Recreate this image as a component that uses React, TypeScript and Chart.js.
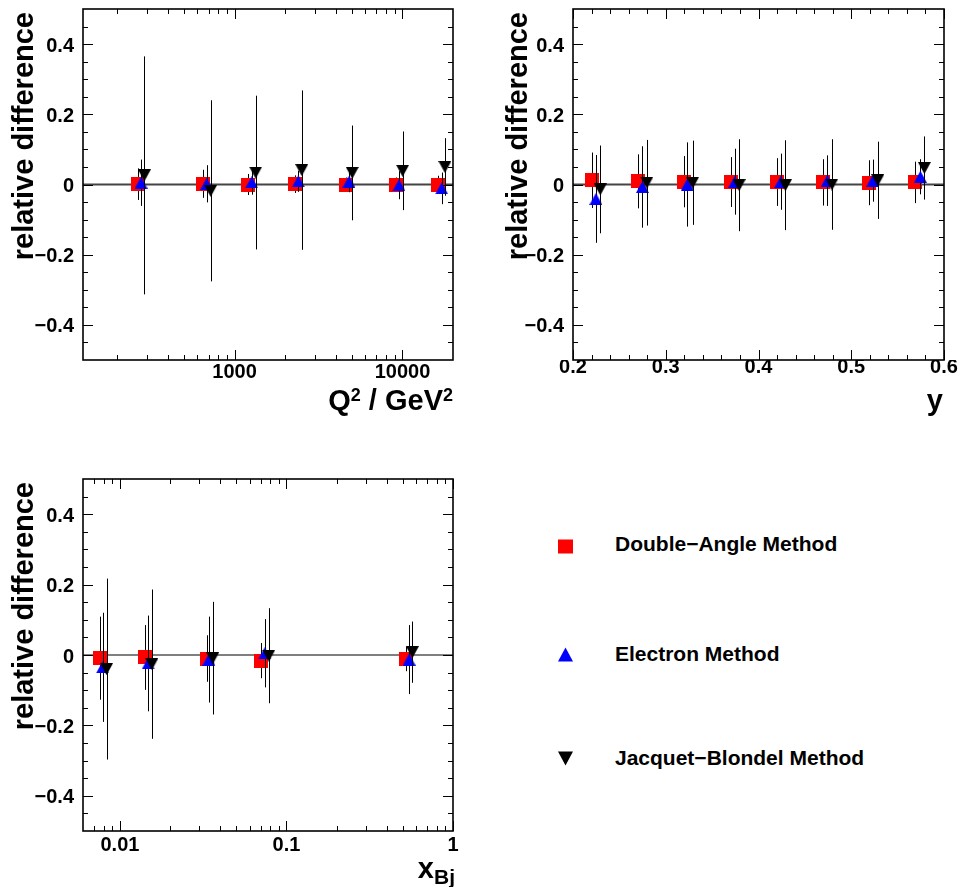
import React, { useEffect, useRef } from 'react';
import { Chart, registerables } from 'chart.js';

Chart.register(...registerables);

const FONT = "'Liberation Sans', Arial, Helvetica, sans-serif";

// ---------- Panel 1: Q^2 ----------
const q2DoubleAngleX = [267, 651, 1207, 2290, 4590, 9100, 16330];
const q2ElectronX = [277, 682, 1264, 2395, 4800, 9530, 17120];
const q2JacquetX = [290, 720, 1335, 2510, 5020, 10020, 17900];
const q2DoubleAngle = [0.001, 0.002, 0.0, 0.001, 0.0, 0.0, 0.0];
const q2DoubleAngleErr = [0.045, 0.04, 0.03, 0.025, 0.02, 0.02, 0.025];
const q2Electron = [0.005, 0.002, 0.006, 0.009, 0.008, -0.002, -0.011];
const q2ElectronErr = [0.066, 0.053, 0.035, 0.03, 0.03, 0.04, 0.045];
const q2Jacquet = [0.026, -0.018, 0.034, 0.041, 0.033, 0.039, 0.05];
const q2JacquetErr = [0.339, 0.258, 0.219, 0.227, 0.135, 0.112, 0.082];

// ---------- Panel 2: y ----------
const yDoubleAngleX = [0.2205, 0.27, 0.32, 0.37, 0.42, 0.47, 0.519, 0.569];
const yElectronX = [0.2247, 0.2748, 0.3232, 0.3745, 0.424, 0.4742, 0.5232, 0.5745];
const yJacquetX = [0.2294, 0.2796, 0.329, 0.3791, 0.429, 0.4791, 0.5286, 0.5788];
const yDoubleAngle = [0.012, 0.009, 0.008, 0.007, 0.007, 0.006, 0.005, 0.006];
const yDoubleAngleErr = [0.079, 0.077, 0.073, 0.071, 0.068, 0.066, 0.064, 0.059];
const yElectron = [-0.041, -0.007, 0.0, 0.008, 0.008, 0.011, 0.011, 0.022];
const yElectronErr = [0.125, 0.116, 0.12, 0.094, 0.08, 0.072, 0.06, 0.05];
const yJacquet = [-0.014, 0.005, 0.005, -0.002, -0.002, 0.0, 0.012, 0.047];
const yJacquetErr = [0.125, 0.122, 0.12, 0.131, 0.128, 0.129, 0.11, 0.09];

// ---------- Panel 3: x_Bj ----------
const xDoubleAngleX = [0.00759, 0.01416, 0.0332, 0.0708, 0.52];
const xElectronX = [0.00786, 0.01476, 0.0342, 0.0741, 0.545];
const xJacquetX = [0.00831, 0.01554, 0.0361, 0.0783, 0.57];
const xDoubleAngle = [-0.009, -0.007, -0.01, -0.016, -0.011];
const xDoubleAngleErr = [0.118, 0.092, 0.066, 0.05, 0.035];
const xElectron = [-0.035, -0.024, -0.013, 0.005, -0.013];
const xElectronErr = [0.155, 0.136, 0.122, 0.097, 0.098];
const xJacquet = [-0.04, -0.026, -0.009, -0.002, 0.008];
const xJacquetErr = [0.257, 0.212, 0.16, 0.135, 0.087];

// ---------- Ticks ----------
const yMajorTicks = [-0.4, -0.2, 0, 0.2, 0.4];
const yMinorTicks = [-0.45, -0.35, -0.3, -0.25, -0.15, -0.1, -0.05, 0.05, 0.1, 0.15, 0.25, 0.3, 0.35, 0.45];
const q2MajorTicks = [1000, 10000];
const q2MinorTicks = [200, 300, 400, 500, 600, 700, 800, 900, 2000, 3000, 4000, 5000, 6000, 7000, 8000, 9000];
const yVarMajorTicks = [0.2, 0.3, 0.4, 0.5, 0.6];
const yVarMinorTicks = [0.22, 0.24, 0.26, 0.28, 0.32, 0.34, 0.36, 0.38, 0.42, 0.44, 0.46, 0.48, 0.52, 0.54, 0.56, 0.58];
const xBjMajorTicks = [0.01, 0.1, 1];
const xBjMinorTicks = [0.007, 0.008, 0.009, 0.02, 0.03, 0.04, 0.05, 0.06, 0.07, 0.08, 0.09, 0.2, 0.3, 0.4, 0.5, 0.6, 0.7, 0.8, 0.9];

const legendLabels = ['Double\u2212Angle Method', 'Electron Method', 'Jacquet\u2212Blondel Method'];

type MarkerKind = 'square' | 'up' | 'down';
interface Series { xs: number[]; ys: number[]; errs: number[]; marker: MarkerKind; }

function makeMarker(kind: MarkerKind): HTMLCanvasElement {
  const c = document.createElement('canvas');
  const ctx = c.getContext('2d') as CanvasRenderingContext2D;
  if (kind === 'square') {
    c.width = 14; c.height = 14;
    ctx.fillStyle = '#ff0000';
    ctx.fillRect(0, 0, 14, 14);
  } else if (kind === 'up') {
    c.width = 13; c.height = 12;
    ctx.fillStyle = '#0000ff';
    ctx.beginPath();
    ctx.moveTo(6.5, 0); ctx.lineTo(13, 12); ctx.lineTo(0, 12);
    ctx.closePath(); ctx.fill();
  } else {
    c.width = 13; c.height = 12;
    ctx.fillStyle = '#000000';
    ctx.beginPath();
    ctx.moveTo(0, 0); ctx.lineTo(13, 0); ctx.lineTo(6.5, 12);
    ctx.closePath(); ctx.fill();
  }
  return c;
}

interface PanelProps {
  left: number; top: number; width: number; height: number;
  padRight: number; axisHeight: number; labelPad: number;
  xType: 'linear' | 'logarithmic'; xMin: number; xMax: number;
  xMajor: number[]; xMinor: number[]; xFormat: (v: number) => string;
  series: Series[]; zeroWidth: number; zeroColor: string;
}

function yFormat(v: number): string {
  if (Math.abs(v) < 1e-9) return '0';
  return (v < 0 ? '\u2212' : '') + Math.abs(v).toFixed(1);
}

function Panel(p: PanelProps) {
  const ref = useRef<HTMLCanvasElement>(null);
  useEffect(() => {
    if (!ref.current) return;
    const markers: Record<MarkerKind, HTMLCanvasElement> = {
      square: makeMarker('square'), up: makeMarker('up'), down: makeMarker('down'),
    };
    const datasets: any[] = [
      {
        data: [{ x: p.xMin, y: 0 }, { x: p.xMax, y: 0 }],
        showLine: true, borderColor: p.zeroColor, borderWidth: p.zeroWidth,
        pointRadius: 0, order: 10,
      },
      ...p.series.map((s, i) => ({
        data: s.xs.map((x, j) => ({ x, y: s.ys[j] })),
        pointStyle: markers[s.marker],
        pointRadius: 7,
        order: 3 - i,
      })),
    ];

    const errorBars = {
      id: 'errorBars',
      beforeDatasetDraw(chart: any, args: any) {
        const idx = args.index;
        if (idx === 0) return;
        const s = p.series[idx - 1];
        const ctx = chart.ctx as CanvasRenderingContext2D;
        const xs = chart.scales.x, ys = chart.scales.y;
        ctx.save();
        ctx.strokeStyle = '#000';
        ctx.lineWidth = 1;
        ctx.beginPath();
        s.xs.forEach((x, j) => {
          const px = Math.round(xs.getPixelForValue(x)) + 0.5;
          ctx.moveTo(px, ys.getPixelForValue(s.ys[j] + s.errs[j]));
          ctx.lineTo(px, ys.getPixelForValue(s.ys[j] - s.errs[j]));
        });
        ctx.stroke();
        ctx.restore();
      },
    };

    const frame = {
      id: 'rootFrame',
      afterDraw(chart: any) {
        const ctx = chart.ctx as CanvasRenderingContext2D;
        const a = chart.chartArea;
        const xs = chart.scales.x, ys = chart.scales.y;
        ctx.save();
        ctx.strokeStyle = '#000';
        ctx.lineWidth = 1;
        ctx.beginPath();
        const xt = (vals: number[], len: number) => vals.forEach((v) => {
          const px = Math.round(xs.getPixelForValue(v)) + 0.5;
          ctx.moveTo(px, a.bottom); ctx.lineTo(px, a.bottom - len);
          ctx.moveTo(px, a.top); ctx.lineTo(px, a.top + len);
        });
        const yt = (vals: number[], len: number) => vals.forEach((v) => {
          const py = Math.round(ys.getPixelForValue(v)) + 0.5;
          ctx.moveTo(a.left, py); ctx.lineTo(a.left + len, py);
          ctx.moveTo(a.right, py); ctx.lineTo(a.right - len, py);
        });
        xt(p.xMajor, 10); xt(p.xMinor, 5);
        yt(yMajorTicks, 10); yt(yMinorTicks, 5);
        ctx.stroke();
        ctx.lineWidth = 1.6;
        ctx.strokeRect(a.left, a.top, a.right - a.left, a.bottom - a.top);
        ctx.restore();
      },
    };

    const tickFont = { family: FONT, size: 20, weight: 'bold' as const, lineHeight: 1 };

    const chart = new Chart(ref.current, {
      type: 'scatter',
      data: { datasets },
      options: {
        animation: false,
        responsive: false,
        maintainAspectRatio: false,
        events: [],
        layout: { padding: { top: 9, right: p.padRight, left: 0, bottom: 0 } },
        plugins: { legend: { display: false }, tooltip: { enabled: false } },
        scales: {
          x: {
            type: p.xType, min: p.xMin, max: p.xMax, position: 'bottom',
            grid: { display: false, drawTicks: false },
            border: { display: false },
            ticks: {
              font: tickFont, color: '#000', padding: p.labelPad,
              autoSkip: false, maxRotation: 0, minRotation: 0,
              callback: (v: any) => p.xFormat(Number(v)),
            },
            afterBuildTicks: (s: any) => { s.ticks = p.xMajor.map((v) => ({ value: v })); },
            afterFit: (s: any) => { s.height = p.axisHeight; s.paddingLeft = 0; s.paddingRight = 0; },
          } as any,
          y: {
            type: 'linear', min: -0.5, max: 0.5,
            grid: { display: false, drawTicks: false },
            border: { display: false },
            ticks: {
              font: tickFont, color: '#000', padding: 9, labelOffset: 2,
              autoSkip: false, callback: (v: any) => yFormat(Number(v)),
            },
            afterBuildTicks: (s: any) => { s.ticks = yMajorTicks.map((v) => ({ value: v })); },
            afterFit: (s: any) => { s.width = 83; s.paddingTop = 0; s.paddingBottom = 0; },
          } as any,
        },
      },
      plugins: [errorBars, frame],
    });
    return () => chart.destroy();
  }, []);
  return (
    <canvas
      ref={ref}
      width={p.width}
      height={p.height}
      style={{ position: 'absolute', left: p.left, top: p.top, width: p.width, height: p.height }}
    />
  );
}

function YTitle({ x, endY }: { x: number; endY: number }) {
  return (
    <div
      style={{
        position: 'absolute', left: x, top: endY + 300, width: 300, height: 29,
        transform: 'rotate(-90deg)', transformOrigin: '0 0', textAlign: 'right',
        font: `bold 29px/29px ${FONT}`, whiteSpace: 'nowrap', color: '#000',
      }}
    >
      relative difference
    </div>
  );
}

function XTitle({ right, baseline, children }: { right: number; baseline: number; children: React.ReactNode }) {
  return (
    <div
      style={{
        position: 'absolute', left: right - 300, top: baseline - 24.5, width: 300, height: 29,
        textAlign: 'right', font: `bold 29px/29px ${FONT}`, whiteSpace: 'nowrap', color: '#000',
      }}
    >
      {children}
    </div>
  );
}

function LegendMarker({ kind, cx, cy }: { kind: MarkerKind; cx: number; cy: number }) {
  let shape: React.ReactNode;
  if (kind === 'square') shape = <rect x={0} y={0.5} width={15} height={14} fill="#ff0000" />;
  else if (kind === 'up') shape = <polygon points="7.5,0.5 15,14.5 0,14.5" fill="#0000ff" />;
  else shape = <polygon points="0,0.5 15,0.5 7.5,14.5" fill="#000000" />;
  return (
    <svg width={15} height={15} style={{ position: 'absolute', left: cx - 7.5, top: cy - 7.5 }}>
      {shape}
    </svg>
  );
}

function LegendText({ left, baseline, text }: { left: number; baseline: number; text: string }) {
  return (
    <div
      style={{
        position: 'absolute', left, top: baseline - 17.8, height: 21,
        font: `bold 21px/21px ${FONT}`, whiteSpace: 'nowrap', color: '#000',
      }}
    >
      {text}
    </div>
  );
}

export default function App() {
  const q2Series: Series[] = [
    { xs: q2DoubleAngleX, ys: q2DoubleAngle, errs: q2DoubleAngleErr, marker: 'square' },
    { xs: q2ElectronX, ys: q2Electron, errs: q2ElectronErr, marker: 'up' },
    { xs: q2JacquetX, ys: q2Jacquet, errs: q2JacquetErr, marker: 'down' },
  ];
  const ySeries: Series[] = [
    { xs: yDoubleAngleX, ys: yDoubleAngle, errs: yDoubleAngleErr, marker: 'square' },
    { xs: yElectronX, ys: yElectron, errs: yElectronErr, marker: 'up' },
    { xs: yJacquetX, ys: yJacquet, errs: yJacquetErr, marker: 'down' },
  ];
  const xSeries: Series[] = [
    { xs: xDoubleAngleX, ys: xDoubleAngle, errs: xDoubleAngleErr, marker: 'square' },
    { xs: xElectronX, ys: xElectron, errs: xElectronErr, marker: 'up' },
    { xs: xJacquetX, ys: xJacquet, errs: xJacquetErr, marker: 'down' },
  ];
  const supStyle: React.CSSProperties = { fontSize: 18, position: 'relative', top: -9 };
  const subStyle: React.CSSProperties = { fontSize: 21, position: 'relative', top: 6 };

  return (
    <div
      style={{
        position: 'absolute', left: 0, top: 0, width: 959, height: 887,
        overflow: 'hidden', background: '#fff', fontFamily: FONT,
      }}
    >
      <Panel
        left={0} top={0} width={465} height={395} padRight={12} axisHeight={35} labelPad={2}
        xType="logarithmic" xMin={125} xMax={20000}
        xMajor={q2MajorTicks} xMinor={q2MinorTicks} xFormat={(v) => String(v)}
        series={q2Series} zeroWidth={2} zeroColor="#444444"
      />
      <Panel
        left={490} top={0} width={469} height={395} padRight={15} axisHeight={35} labelPad={-3}
        xType="linear" xMin={0.2} xMax={0.6}
        xMajor={yVarMajorTicks} xMinor={yVarMinorTicks} xFormat={(v) => v.toFixed(1)}
        series={ySeries} zeroWidth={2} zeroColor="#444444"
      />
      <Panel
        left={0} top={470} width={465} height={417} padRight={12} axisHeight={56} labelPad={4}
        xType="logarithmic" xMin={0.006} xMax={1}
        xMajor={xBjMajorTicks} xMinor={xBjMinorTicks} xFormat={(v) => (v >= 1 ? '1' : String(v))}
        series={xSeries} zeroWidth={1} zeroColor="#000000"
      />

      <YTitle x={8.5} endY={12} />
      <YTitle x={502.5} endY={12} />
      <YTitle x={8.5} endY={482} />

      <XTitle right={453} baseline={410}>
        Q<span style={supStyle}>2</span> / GeV<span style={supStyle}>2</span>
      </XTitle>
      <XTitle right={943} baseline={410}>y</XTitle>
      <XTitle right={455} baseline={878}>
        x<span style={subStyle}>Bj</span>
      </XTitle>

      <LegendMarker kind="square" cx={565.5} cy={546} />
      <LegendText left={615} baseline={551} text={legendLabels[0]} />
      <LegendMarker kind="up" cx={565.5} cy={654} />
      <LegendText left={615} baseline={661} text={legendLabels[1]} />
      <LegendMarker kind="down" cx={565.5} cy={758.5} />
      <LegendText left={615} baseline={765} text={legendLabels[2]} />
    </div>
  );
}
